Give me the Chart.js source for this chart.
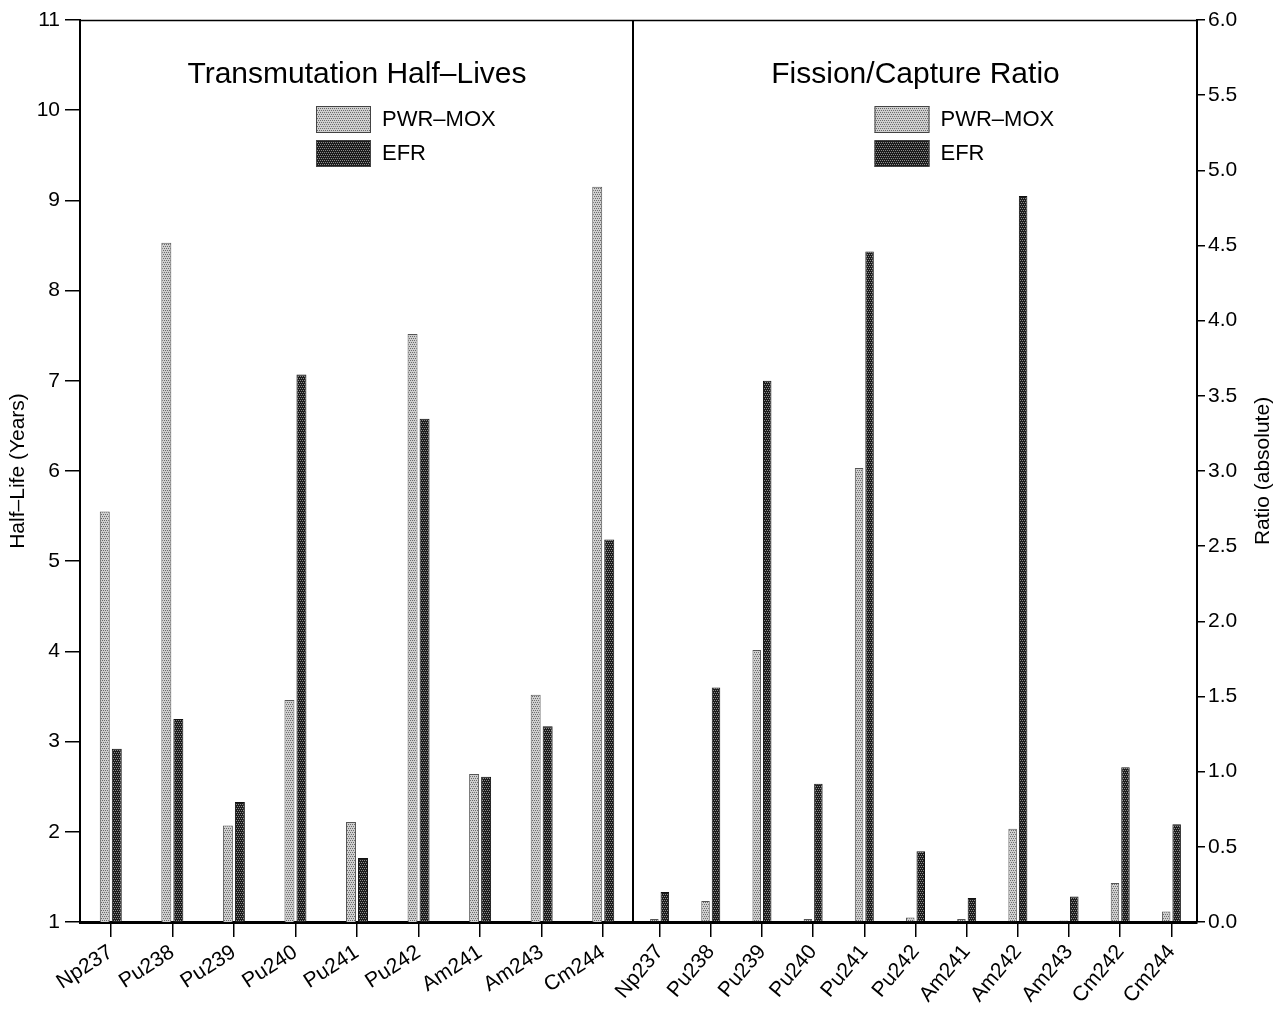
<!DOCTYPE html>
<html>
<head>
<meta charset="utf-8">
<script src="https://cdn.jsdelivr.net/npm/chart.js@4.4.1/dist/chart.umd.min.js"></script>
<style>
html,body{margin:0;padding:0;background:#fff;width:1281px;height:1015px;overflow:hidden}
#wl{position:absolute;left:0;top:0;width:640px;height:1015px}
#wr{position:absolute;left:560px;top:0;width:721px;height:1015px}
</style>
</head>
<body>
<div id="wl"><canvas id="cl" width="640" height="1015"></canvas></div>
<div id="wr"><canvas id="cr" width="721" height="1015"></canvas></div>
<script>
// ---- data ----
const halfLifeIsotopes = ['Np237','Pu238','Pu239','Pu240','Pu241','Pu242','Am241','Am243','Cm244'];
const halfLifePWR = [5.55, 8.53, 2.07, 3.46, 2.11, 7.52, 2.64, 3.52, 9.15];
const halfLifeEFR = [2.92, 3.25, 2.33, 7.07, 1.71, 6.58, 2.61, 3.17, 5.24];

const ratioIsotopes = ['Np237','Pu238','Pu239','Pu240','Pu241','Pu242','Am241','Am242','Am243','Cm242','Cm244'];
const ratioPWR = [0.02, 0.14, 1.81, 0.02, 3.02, 0.03, 0.02, 0.62, 0.01, 0.26, 0.07];
const ratioEFR = [0.20, 1.56, 3.60, 0.92, 4.46, 0.47, 0.16, 4.83, 0.17, 1.03, 0.65];

const halfLifeAxis = {min: 1, max: 11, step: 1};
const ratioAxis = {min: 0, max: 6, step: 0.5};

const seriesNames = ['PWR–MOX', 'EFR'];
const panelTitles = ['Transmutation Half–Lives', 'Fission/Capture Ratio'];
const axisTitles = ['Half–Life (Years)', 'Ratio (absolute)'];

// ---- styling ----
const FONT = '"Liberation Sans", Arial, Helvetica, sans-serif';
Chart.defaults.font.family = FONT;
Chart.defaults.color = '#000';

function makePattern(base, dot) {
  const c = document.createElement('canvas');
  c.width = 4; c.height = 4;
  const g = c.getContext('2d');
  g.fillStyle = base; g.fillRect(0, 0, 4, 4);
  g.fillStyle = dot;
  [[0,0],[2,0],[1,2],[3,2]].forEach(([x, y]) => g.fillRect(x, y, 1, 1));
  return g.createPattern(c, 'repeat');
}
const lightFill = makePattern('#cfcfcf', '#6a6a6a');
const darkFill = makePattern('#1c1c1c', '#8c8c8c');

const panelDecor = {
  id: 'panelDecor',
  afterDraw(chart, args, o) {
    const {ctx, chartArea: a} = chart;
    ctx.save();
    ctx.strokeStyle = '#000';
    ctx.lineWidth = 1.5;
    ctx.beginPath();
    ctx.moveTo(a.left, a.top + 0.5);
    ctx.lineTo(a.right, a.top + 0.5);
    ctx.stroke();
    if (o.divider) {
      ctx.lineWidth = 2;
      ctx.beginPath();
      ctx.moveTo(a.right - 1, a.top);
      ctx.lineTo(a.right - 1, a.bottom);
      ctx.stroke();
    }
    const cx = (a.left + a.right) / 2;
    ctx.fillStyle = '#000';
    ctx.font = '30px ' + FONT;
    ctx.textAlign = 'center';
    ctx.textBaseline = 'alphabetic';
    ctx.fillText(o.title, cx, 83);
    // legend
    const fills = [lightFill, darkFill];
    const tops = [106, 140];
    ctx.font = '22px ' + FONT;
    ctx.textAlign = 'left';
    ctx.textBaseline = 'middle';
    for (let i = 0; i < 2; i++) {
      ctx.fillStyle = fills[i];
      ctx.fillRect(cx - 41, tops[i], 55, 27);
      ctx.lineWidth = 1;
      ctx.strokeStyle = '#444';
      ctx.strokeRect(cx - 40.5, tops[i] + 0.5, 54, 26);
      ctx.fillStyle = '#000';
      ctx.fillText(seriesNames[i], cx + 25, tops[i] + 14);
    }
    if (o.rightTitle) {
      ctx.save();
      ctx.translate(chart.width - 18, (a.top + a.bottom) / 2);
      ctx.rotate(-Math.PI / 2);
      ctx.textAlign = 'center';
      ctx.textBaseline = 'middle';
      ctx.font = '21px ' + FONT;
      ctx.fillText(o.rightTitle, 0, 0);
      ctx.restore();
    }
    ctx.restore();
  }
};

function barDatasets(pwr, efr, cat, bar) {
  return [
    {label: seriesNames[0], data: pwr, backgroundColor: lightFill, borderColor: '#555', borderWidth: 1,
     categoryPercentage: cat, barPercentage: bar},
    {label: seriesNames[1], data: efr, backgroundColor: darkFill, borderColor: '#111', borderWidth: 1,
     categoryPercentage: cat, barPercentage: bar}
  ];
}

function xScale(rot) {
  return {
    type: 'category',
    grid: {display: true, drawOnChartArea: false, drawTicks: true, tickLength: 15, offset: false,
           color: '#000', lineWidth: 1.5},
    border: {display: true, color: '#000', width: 3},
    ticks: {autoSkip: false, minRotation: rot, maxRotation: rot, padding: 3,
            font: {size: 21}, color: '#000'},
    afterFit(s) { s.height = 93; }
  };
}

// ---- left chart ----
new Chart(document.getElementById('cl'), {
  type: 'bar',
  data: {labels: halfLifeIsotopes, datasets: barDatasets(halfLifePWR, halfLifeEFR, 0.39, 0.83)},
  options: {
    responsive: false, animation: false, devicePixelRatio: 1,
    layout: {padding: {top: 20, right: 6, left: 0, bottom: 0}},
    plugins: {legend: {display: false}, tooltip: {enabled: false},
              panelDecor: {title: panelTitles[0], divider: true}},
    scales: {
      x: xScale(33),
      y: {
        type: 'linear', position: 'left',
        min: halfLifeAxis.min, max: halfLifeAxis.max,
        ticks: {stepSize: halfLifeAxis.step, padding: 5, font: {size: 21}, color: '#000'},
        grid: {display: true, drawOnChartArea: false, drawTicks: true, tickLength: 15, color: '#000', lineWidth: 1.5},
        border: {display: true, color: '#000', width: 2},
        title: {display: true, text: axisTitles[0], font: {size: 21}, color: '#000', padding: {top: 6, bottom: 0}},
        afterFit(s) { s.width = 80; }
      }
    }
  },
  plugins: [panelDecor]
});

// ---- right chart ----
new Chart(document.getElementById('cr'), {
  type: 'bar',
  data: {labels: ratioIsotopes, datasets: barDatasets(ratioPWR, ratioEFR, 0.41, 0.81)},
  options: {
    responsive: false, animation: false, devicePixelRatio: 1,
    layout: {padding: {top: 20, right: 0, left: 74, bottom: 0}},
    plugins: {legend: {display: false}, tooltip: {enabled: false},
              panelDecor: {title: panelTitles[1], divider: false, rightTitle: axisTitles[1]}},
    scales: {
      x: xScale(50),
      y: {
        type: 'linear', position: 'right',
        min: ratioAxis.min, max: ratioAxis.max,
        ticks: {stepSize: ratioAxis.step, padding: 3, font: {size: 21}, color: '#000',
                callback: v => Number(v).toFixed(1)},
        grid: {display: true, drawOnChartArea: false, drawTicks: true, tickLength: 8, color: '#000', lineWidth: 1.5},
        border: {display: true, color: '#000', width: 2},
        afterFit(s) { s.width = 84; }
      }
    }
  },
  plugins: [panelDecor]
});
</script>
</body>
</html>
